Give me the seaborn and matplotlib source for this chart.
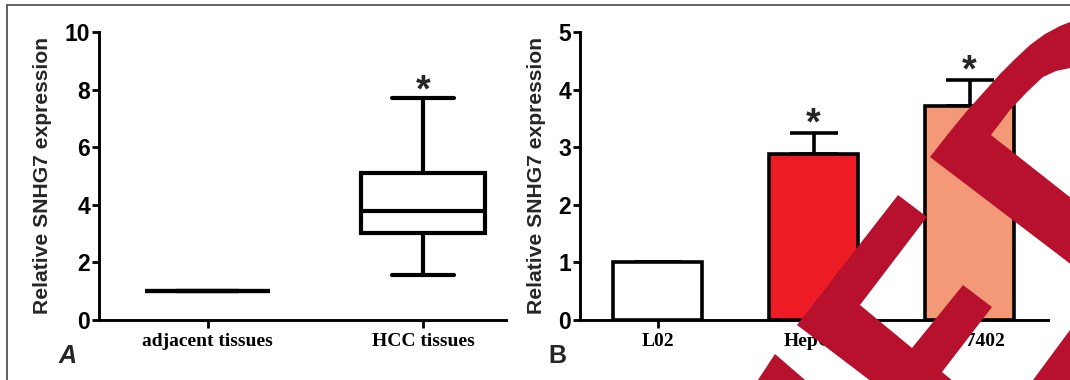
import numpy as np
import pandas as pd
import matplotlib
matplotlib.use("Agg")
import matplotlib.pyplot as plt
from matplotlib.patches import Polygon
from matplotlib.lines import Line2D
import seaborn as sns

# ---- data ----
# panel A: box summary (min, Q1, median, Q3, max)
tissue_groups = ["adjacent tissues", "HCC tissues"]
adjacent_values = [1.0, 1.0, 1.0, 1.0, 1.0]
hcc_values = [1.56, 3.03, 3.77, 5.11, 7.72]
star_tissues = ["HCC tissues"]

# panel B: mean + SEM
cell_lines = ["L02", "HepG2", "Bel-7402"]
cell_means = [1.0, 2.88, 3.72]
cell_sem = [0.0, 0.37, 0.44]
cell_colors = ["#FFFFFF", "#ED1C24", "#F49978"]
star_cells = ["HepG2", "Bel-7402"]

ylabel = "Relative SNHG7 expression"

W, H = 1070, 380
SANS = ["Liberation Sans", "DejaVu Sans"]
SERIF = ["Liberation Serif", "DejaVu Serif"]

sns.set_theme(style="ticks")
plt.rcParams["font.family"] = SANS
plt.rcParams["font.weight"] = "bold"
plt.rcParams["axes.linewidth"] = 2.1

fig = plt.figure(figsize=(W / 100, H / 100), dpi=100)
ax1 = fig.add_axes([99 / W, 1 - 320 / H, 407 / W, 288 / H])
ax2 = fig.add_axes([580 / W, 1 - 320 / H, 468 / W, 288 / H])

# ---- panel A: box plot ----
df_a = pd.DataFrame({
    "group": [tissue_groups[0]] * len(adjacent_values) + [tissue_groups[1]] * len(hcc_values),
    "value": adjacent_values + hcc_values,
})
sns.boxplot(data=df_a, x="group", y="value", order=tissue_groups, whis=(0, 100),
            width=0.58, color="white", linecolor="black", linewidth=3,
            fliersize=0, ax=ax1)
ax1.set_xlim(-0.505, 1.386)
ax1.set_ylim(0, 10)
ax1.set_yticks(np.arange(0, 11, 2))
for name in star_tissues:
    i = tissue_groups.index(name)
    top = df_a.loc[df_a.group == name, "value"].max()
    ax1.annotate("*", xy=(i, top), xytext=(0, -3.0), textcoords="offset points",
                 ha="center", va="baseline", fontsize=27, fontweight="bold")

# ---- panel B: bar plot ----
df_b = pd.DataFrame({"cell": cell_lines, "mean": cell_means, "sem": cell_sem})
sns.barplot(data=df_b, x="cell", y="mean", hue="cell", order=cell_lines,
            hue_order=cell_lines, palette=cell_colors, saturation=1, width=0.573,
            edgecolor="black", linewidth=2.6, errorbar=None, legend=False, ax=ax2)
xpos = np.arange(len(cell_lines))
ax2.errorbar(xpos, df_b["mean"], yerr=[np.zeros(len(xpos)), df_b["sem"]], fmt="none",
             ecolor="black", elinewidth=2.6, capsize=17, capthick=2.6, zorder=0.5)
ax2.set_xlim(-0.498, 2.503)
ax2.set_ylim(0, 5)
ax2.set_yticks(np.arange(0, 6))
for name in star_cells:
    i = cell_lines.index(name)
    top = cell_means[i] + cell_sem[i]
    ax2.annotate("*", xy=(i, top), xytext=(0, -1.0), textcoords="offset points",
                 ha="center", va="baseline", fontsize=27, fontweight="bold")

for ax, labels, lx in [(ax1, tissue_groups, -0.115), (ax2, cell_lines, -0.072)]:
    sns.despine(ax=ax)
    ax.set_xticks(range(len(labels)), labels=labels, fontsize=14,
                  fontweight="bold", family=SERIF)
    ax.tick_params(axis="y", length=5, width=2, pad=1.5, colors="black", labelsize=16.5)
    ax.tick_params(axis="x", length=6, width=2, pad=3, colors="black")
    for t in ax.get_yticklabels():
        t.set_fontweight("bold")
    ax.set_xlabel("")
    ax.set_ylabel(ylabel, fontsize=15.2, fontweight="bold")
    ax.yaxis.set_label_coords(lx, 0.5)
    for s in ax.spines.values():
        s.set_color("black")

fig.text(59 / W, 1 - 363 / H, "A", fontsize=18, fontweight="bold", style="italic",
         ha="left", va="baseline")
fig.text(548 / W, 1 - 363 / H, "B", fontsize=18, fontweight="bold",
         ha="left", va="baseline")

# frame (top and left edges only)
fig.add_artist(Line2D([7 / W, 1], [1 - 5 / H, 1 - 5 / H], color="#555555", lw=1.3))
fig.add_artist(Line2D([7 / W, 7 / W], [1 - 5 / H, 0], color="#555555", lw=1.3))

# red stamp over the right panel (pixel outlines)
stamp = [
    [(898, 195), (927, 217), (860, 305), (912, 348), (963, 285), (992, 307),
     (942, 372), (1000, 420), (922, 420), (797, 325)],
    [(930, 157), (948, 134), (966, 112), (983, 93), (1000, 74), (1015, 59),
     (1030, 45), (1045, 34), (1060, 26), (1075, 20), (1085, 18), (1085, 67),
     (1070, 68), (1056, 71), (1043, 77), (1027, 92), (1010, 110), (991, 135),
     (1085, 209), (1085, 275)],
    [(750, 392), (775, 354), (812, 386)],
    [(1033, 380), (1070, 330), (1080, 330), (1080, 392), (1033, 392)],
]
for pts in stamp:
    xy = [(x / W, 1 - y / H) for x, y in pts]
    fig.add_artist(Polygon(xy, closed=True, transform=fig.transFigure,
                           facecolor="#B7112D", edgecolor="none", zorder=10))

fig.savefig("out.png", dpi=100, facecolor="white")
